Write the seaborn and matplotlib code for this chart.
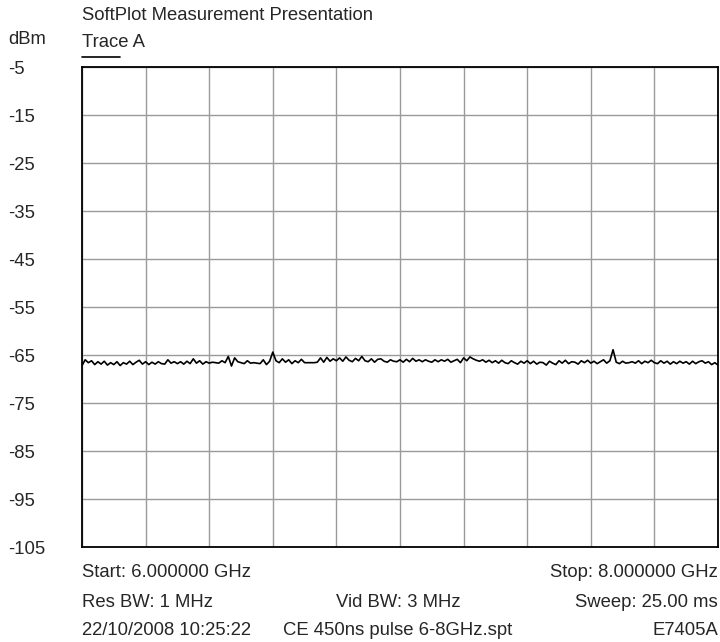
import numpy as np
import pandas as pd
import matplotlib
matplotlib.use("Agg")
import matplotlib.pyplot as plt
import seaborn as sns

freq_start_ghz = 6.0
freq_stop_ghz = 8.0
freq_step_ghz = 0.01

level_dbm = [
    -67.2, -66.0, -66.6, -66.2, -67.0, -66.4, -66.9, -66.3, -67.1, -66.6,
    -67.0, -66.4, -67.2, -66.6, -66.9, -66.3, -67.0, -66.5, -66.1, -66.9,
    -66.4, -67.0, -66.5, -66.9, -66.4, -66.8, -66.9, -66.0, -66.7, -66.4,
    -66.8, -66.4, -66.9, -66.3, -66.8, -65.8, -66.7, -66.2, -66.9, -66.4,
    -66.7, -66.5, -66.6, -66.7, -66.2, -66.6, -65.3, -67.3, -65.6, -66.4,
    -66.6, -66.8, -66.2, -66.7, -66.6, -66.7, -66.8, -66.0, -67.0, -66.3,
    -64.4, -66.2, -66.6, -65.8, -66.5, -66.0, -66.8, -66.2, -66.6, -65.9,
    -66.6, -66.6, -66.6, -66.6, -66.5, -65.6, -66.5, -65.5, -66.3, -65.8,
    -66.2, -65.6, -66.3, -65.4, -66.1, -66.4, -65.7, -66.2, -65.3, -66.2,
    -66.4, -65.8, -66.5, -65.9, -65.8, -66.3, -66.5, -66.0, -66.3, -66.4,
    -66.0, -66.5, -65.9, -66.4, -65.7, -66.3, -66.0, -66.4, -66.0, -66.3,
    -66.5, -66.0, -66.4, -66.0, -66.3, -65.9, -66.5, -66.2, -65.9, -66.6,
    -65.6, -66.2, -65.4, -65.8, -66.1, -66.3, -66.0, -66.5, -66.1, -66.6,
    -66.2, -66.7, -66.1, -66.6, -66.8, -66.2, -66.6, -66.9, -66.3, -66.7,
    -66.2, -66.8, -66.3, -66.9, -66.5, -66.6, -67.1, -66.3, -66.7, -67.0,
    -66.2, -66.7, -66.1, -66.8, -66.4, -66.5, -66.9, -66.2, -66.6, -66.1,
    -66.7, -66.3, -66.8, -66.4, -66.0, -66.7, -66.2, -63.9, -66.5, -66.8,
    -66.3, -66.7, -66.6, -66.4, -66.7, -66.2, -66.8, -66.3, -66.6, -66.1,
    -66.6, -66.8, -66.2, -66.7, -66.3, -66.9, -66.4, -66.8, -66.3, -66.7,
    -66.4, -66.9, -66.3, -66.8, -66.4, -66.2, -66.7, -66.4, -67.0, -66.6,
    -67.1,
]

y_ticks = [-5, -15, -25, -35, -45, -55, -65, -75, -85, -95, -105]
y_tick_labels = ["-5", "-15", "-25", "-35", "-45", "-55", "-65", "-75", "-85", "-95", "-105"]

title_text = "SoftPlot Measurement Presentation"
unit_text = "dBm"
trace_text = "Trace A"
footer_left = ["Start: 6.000000 GHz", "Res BW: 1 MHz", "22/10/2008 10:25:22"]
footer_center = ["", "Vid BW: 3 MHz", "CE 450ns pulse 6-8GHz.spt"]
footer_right = ["Stop: 8.000000 GHz", "Sweep: 25.00 ms", "E7405A"]

freq = np.round(np.arange(len(level_dbm)) * freq_step_ghz + freq_start_ghz, 4)
df = pd.DataFrame({"freq": freq, "level": level_dbm})

sns.set_style("white")
plt.rcParams["font.family"] = ["Liberation Sans", "DejaVu Sans"]

W, H = 720, 642
fig = plt.figure(figsize=(W / 100, H / 100), dpi=100)
L, R, T, B = 82, 718, 67, 547
ax = fig.add_axes([L / W, 1 - B / H, (R - L) / W, (B - T) / H])

sns.lineplot(data=df, x="freq", y="level", ax=ax, color="black", linewidth=1.2)

fs = 13.3
ax.set_xlim(freq_start_ghz, freq_stop_ghz)
ax.set_ylim(-105, -5)
ax.set_xticks(np.linspace(freq_start_ghz, freq_stop_ghz, 11))
ax.set_xticklabels([])
ax.set_yticks(y_ticks)
ax.set_yticklabels(y_tick_labels, ha="left", fontsize=fs)
ax.tick_params(axis="y", length=0, pad=(L - 8) * 0.72)
ax.tick_params(axis="x", length=0)
ax.grid(True, color="#9a9a9a", linewidth=1.0)
ax.set_xlabel("")
ax.set_ylabel("")
for s in ax.spines.values():
    s.set_color("black")
    s.set_linewidth(1.3)

def px(x, y):
    return x / W, 1 - y / H

fig.text(*px(82, 20), title_text, ha="left", va="baseline", fontsize=fs)
fig.text(*px(8, 44), unit_text, ha="left", va="baseline", fontsize=fs)
fig.text(*px(82, 47), trace_text, ha="left", va="baseline", fontsize=fs)
fig.add_artist(plt.Line2D([82 / W, 120 / W], [1 - 57 / H, 1 - 57 / H], color="black", linewidth=1.2))

row_baselines = [577, 607, 635]
for lt, ct, rt, yy in zip(footer_left, footer_center, footer_right, row_baselines):
    if lt:
        fig.text(*px(82, yy), lt, ha="left", va="baseline", fontsize=fs)
    if ct:
        fig.text(*px(398, yy), ct, ha="center", va="baseline", fontsize=fs)
    if rt:
        fig.text(*px(718, yy), rt, ha="right", va="baseline", fontsize=fs)

fig.savefig("out.png", dpi=100)
